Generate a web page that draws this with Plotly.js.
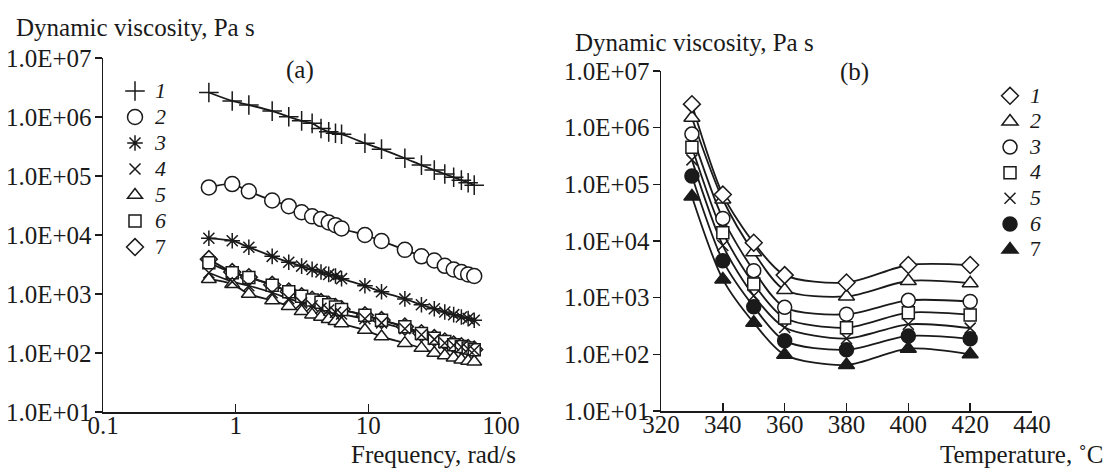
<!DOCTYPE html>
<html>
<head>
<meta charset="utf-8">
<script src="https://cdn.plot.ly/plotly-3.0.1.min.js"></script>
<style>html,body{margin:0;padding:0;background:#fff;}#chart{width:1109px;height:470px;}</style>
</head>
<body>
<div id="chart"></div>
<script>
// ---- Panel (a): dynamic viscosity vs frequency ----
const freq = [0.628, 0.942, 1.257, 1.885, 2.513, 3.142, 3.770, 4.398, 5.027, 5.655, 6.283, 9.425, 12.57, 18.85, 25.13, 31.42, 37.70, 43.98, 50.27, 56.55, 62.83];
const a1 = [2.6e6, 1.87e6, 1.6e6, 1.26e6, 1.01e6, 8.6e5, 7.8e5, 6.4e5, 5.6e5, 5.3e5, 5.1e5, 3.6e5, 2.85e5, 2.0e5, 1.53e5, 1.26e5, 1.08e5, 9.5e4, 8.5e4, 7.7e4, 7.0e4];
const a2 = [6.4e4, 7.3e4, 5.5e4, 3.85e4, 3.08e4, 2.43e4, 2.07e4, 1.86e4, 1.63e4, 1.47e4, 1.29e4, 1.0e4, 7.9e3, 5.6e3, 4.35e3, 3.7e3, 3.0e3, 2.6e3, 2.35e3, 2.15e3, 2.02e3];
const a3 = [8.8e3, 8.0e3, 6.2e3, 4.35e3, 3.46e3, 2.97e3, 2.61e3, 2.36e3, 2.15e3, 2.02e3, 1.82e3, 1.38e3, 1.09e3, 826, 656, 562, 495, 447, 408, 383, 359];
const a4 = [2290, 1620, 1380, 1050, 832, 708, 631, 575, 537, 490, 457, 380, 324, 257, 204, 170, 148, 135, 126, 117, 111];
const a5 = [1780, 1470, 1000, 774, 623, 508, 447, 408, 373, 346, 316, 245, 190, 147, 121, 100, 91, 83, 77, 73, 71];
const a6 = [3370, 2300, 1900, 1410, 1090, 914, 794, 726, 656, 600, 548, 435, 359, 278, 215, 178, 156, 138, 129, 121, 114];
const a7 = [3900, 2350, 1930, 1430, 1100, 920, 800, 730, 660, 603, 551, 437, 361, 280, 216, 179, 157, 139, 130, 122, 115];

// ---- Panel (b): dynamic viscosity vs temperature ----
const temps = [330, 340, 350, 360, 380, 400, 420];
const b1 = [2.6e6, 6.6e4, 9.3e3, 2.5e3, 1.85e3, 3.77e3, 3.77e3];
const b2 = [1.5e6, 5.4e4, 6.3e3, 1.37e3, 1.05e3, 1.97e3, 1.8e3];
const b3 = [7.7e5, 2.5e4, 3.0e3, 675, 510, 897, 855];
const b4 = [4.5e5, 1.4e4, 1.75e3, 437, 295, 543, 495];
const b5 = [2.7e5, 8.3e3, 1.08e3, 298, 190, 339, 290];
const b6 = [1.4e5, 4.5e3, 693, 173, 120, 211, 188];
const b7 = [6.1e4, 2.1e3, 361, 98, 65, 126, 100];

const yTickVals = [1e1, 1e2, 1e3, 1e4, 1e5, 1e6, 1e7];
const yTickText = ['1.0E+01', '1.0E+02', '1.0E+03', '1.0E+04', '1.0E+05', '1.0E+06', '1.0E+07'];
const xTickValsA = [0.1, 1, 10, 100];
const xTickTextA = ['0.1', '1', '10', '100'];
const xTickValsB = [320, 340, 360, 380, 400, 420, 440];

const labelsA = ['<i>1</i>', '<i>2</i>', '<i>3</i>', '<i>4</i>', '<i>5</i>', '<i>6</i>', '7'];
const labelsB = ['<i>1</i>', '<i>2</i>', '<i>3</i>', '<i>4</i>', '<i>5</i>', '<i>6</i>', '7'];

const INK = '#1a1a1a';
const FONT = '"Liberation Serif", "Times New Roman", serif';
const FS = 25;

function lineTrace(x, y, xa, ya) {
  return {x: x, y: y, xaxis: xa, yaxis: ya, mode: 'lines', type: 'scatter',
    line: {color: INK, width: 1.8, shape: 'spline', smoothing: 0.8},
    showlegend: false, hoverinfo: 'skip'};
}
function markTrace(x, y, xa, ya, name, legend, rank, symbol, size, fill) {
  return {x: x, y: y, xaxis: xa, yaxis: ya, mode: 'markers', type: 'scatter',
    name: '<span style="font-size:22px">' + name + '</span>', legend: legend, legendrank: rank,
    marker: {symbol: symbol, size: size, color: fill, line: {color: INK, width: 1.5}}};
}

const seriesA = [a1, a2, a3, a4, a5, a6, a7];
const seriesB = [b1, b2, b3, b4, b5, b6, b7];
const symA = ['cross-thin-open', 'circle', 'asterisk-open', 'x-thin-open', 'triangle-up', 'square', 'diamond'];
const sizeA = [14, 15, 13, 11, 13, 12, 13];
const fillA = [INK, '#fff', INK, INK, '#fff', '#fff', '#fff'];
const symB = ['diamond', 'triangle-up', 'circle', 'square', 'x-thin-open', 'circle', 'triangle-up'];
const sizeB = [13, 14, 14, 12, 11, 14, 14];
const fillB = ['#fff', '#fff', '#fff', '#fff', INK, INK, INK];

const data = [];
seriesA.forEach(s => data.push(lineTrace(freq, s, 'x', 'y')));
seriesB.forEach(s => data.push(lineTrace(temps, s, 'x2', 'y2')));
// marker draw order for panel (a): 7, 6, 5, 1, 2, 3, 4
[6, 5, 4, 0, 1, 2, 3].forEach(i => data.push(markTrace(freq, seriesA[i], 'x', 'y', labelsA[i], 'legend', i + 1, symA[i], sizeA[i], fillA[i])));
// marker draw order for panel (b): 7 .. 1
[6, 5, 4, 3, 2, 1, 0].forEach(i => data.push(markTrace(temps, seriesB[i], 'x2', 'y2', labelsB[i], 'legend2', i + 1, symB[i], sizeB[i], fillB[i])));

const W = 1109, H = 470;
const px = v => v / W, py = v => 1 - v / H;

const axisCommon = {showline: true, linecolor: INK, linewidth: 1.5, showgrid: false, zeroline: false,
  tickcolor: INK, tickwidth: 1.5, automargin: false, tickfont: {family: FONT, size: FS, color: INK}};

const layout = {
  width: W, height: H, margin: {l: 0, r: 0, t: 0, b: 0},
  paper_bgcolor: '#fff', plot_bgcolor: 'rgba(0,0,0,0)',
  font: {family: FONT, size: FS, color: INK},
  showlegend: true,
  xaxis: Object.assign({}, axisCommon, {type: 'log', domain: [px(103), px(501)], range: [-1, 2],
    tickmode: 'array', tickvals: xTickValsA, ticktext: xTickTextA, ticks: 'inside', ticklen: 8,
    ticklabelstandoff: -10, anchor: 'y'}),
  yaxis: Object.assign({}, axisCommon, {type: 'log', domain: [py(412), py(58)], range: [1, 7],
    tickmode: 'array', tickvals: yTickVals, ticktext: yTickText, ticks: 'outside', ticklen: 7,
    ticklabelstandoff: -2, anchor: 'x'}),
  xaxis2: Object.assign({}, axisCommon, {domain: [px(661), px(1032)], range: [320, 440],
    tickmode: 'array', tickvals: xTickValsB, ticks: 'inside', ticklen: 8,
    ticklabelstandoff: -10, anchor: 'y2'}),
  yaxis2: Object.assign({}, axisCommon, {type: 'log', domain: [py(411), py(71)], range: [1, 7],
    tickmode: 'array', tickvals: yTickVals, ticktext: yTickText, ticks: 'outside', ticklen: 7,
    ticklabelstandoff: -2, anchor: 'x2'}),
  legend: {x: px(115), y: py(73), xanchor: 'left', yanchor: 'top', bgcolor: 'rgba(0,0,0,0)',
    font: {family: FONT, size: 17.7, color: INK}, traceorder: 'normal', itemclick: false},
  legend2: {x: px(990), y: py(78), xanchor: 'left', yanchor: 'top', bgcolor: 'rgba(0,0,0,0)',
    font: {family: FONT, size: 17.4, color: INK}, traceorder: 'normal', itemclick: false},
  annotations: [
    {text: 'Dynamic viscosity, Pa s', xref: 'paper', yref: 'paper', x: px(14), y: py(27), xanchor: 'left', yanchor: 'middle', showarrow: false, font: {family: FONT, size: FS, color: INK}},
    {text: 'Dynamic viscosity, Pa s', xref: 'paper', yref: 'paper', x: px(573), y: py(43), xanchor: 'left', yanchor: 'middle', showarrow: false, font: {family: FONT, size: FS, color: INK}},
    {text: 'Frequency, rad/s', xref: 'paper', yref: 'paper', x: px(518), y: py(454), xanchor: 'right', yanchor: 'middle', showarrow: false, font: {family: FONT, size: FS, color: INK}},
    {text: 'Temperature, ˚C', xref: 'paper', yref: 'paper', x: px(1105), y: py(454), xanchor: 'right', yanchor: 'middle', showarrow: false, font: {family: FONT, size: FS, color: INK}},
    {text: '(a)', xref: 'paper', yref: 'paper', x: px(300), y: py(70), xanchor: 'center', yanchor: 'middle', showarrow: false, font: {family: FONT, size: FS, color: INK}},
    {text: '(b)', xref: 'paper', yref: 'paper', x: px(854), y: py(72), xanchor: 'center', yanchor: 'middle', showarrow: false, font: {family: FONT, size: FS, color: INK}}
  ]
};

Plotly.newPlot('chart', data, layout, {staticPlot: true, displayModeBar: false});
</script>
</body>
</html>
